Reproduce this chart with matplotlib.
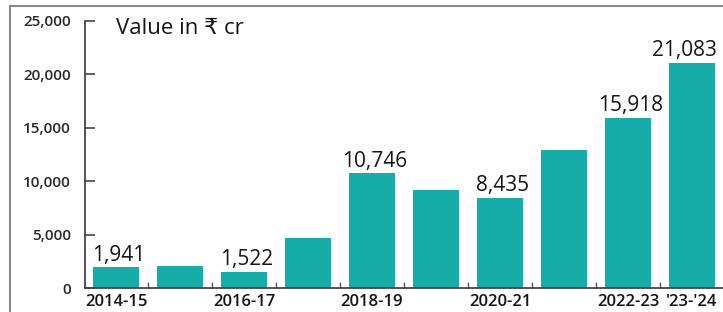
import matplotlib.pyplot as plt
import numpy as np

# Data
years = ['2014-15', '2015-16', '2016-17', '2017-18', '2018-19',
         '2019-20', '2020-21', '2021-22', '2022-23', '2023-24']
values = [1941, 2100, 1522, 4650, 10746, 9150, 8435, 12900, 15918, 21083]
shown_labels = ['1,941', '', '1,522', '', '10,746', '', '8,435', '', '15,918', '21,083']
xtick_labels = ['2014-15', '', '2016-17', '', '2018-19', '', '2020-21', '', '2022-23', "'23-'24"]
yticks = [0, 5000, 10000, 15000, 20000, 25000]

teal = '#16aca8'
dark = '#151515'
fam = ['Open Sans', 'DejaVu Sans']

fig = plt.figure(figsize=(7.23, 3.12), dpi=100)
ax = fig.add_axes([85 / 723, 24 / 312, 638 / 723, 267 / 312])

x = np.arange(len(years))
ax.bar(x, values, width=0.72, color=teal)

# value labels above selected bars (last one nudged left to stay inside)
for xi, v, lab in zip(x, values, shown_labels):
    if lab:
        dx = -0.12 if xi == x[-1] else 0.04
        ax.text(xi + dx, v + 150, lab, ha='center', va='bottom', fontsize=15,
                color=dark, family=fam)

ax.set_xlim(-0.484, 9.484)
ax.set_ylim(0, 25000)

ax.set_yticks(yticks)
ax.set_yticklabels([f'{t:,}' for t in yticks], fontsize=11, fontweight='semibold',
                   color='#2a2a2a', family=fam)
ax.tick_params(axis='y', direction='in', length=7, width=1.2, color='#444444', pad=10)

ax.set_xticks(x)
ax.set_xticklabels(xtick_labels, fontsize=12, fontweight='semibold', color=dark, family=fam)
ax.tick_params(axis='x', length=0, pad=4)
ax.set_xticks(x[:-1] + 0.5, minor=True)
ax.tick_params(axis='x', which='minor', direction='in', length=4, width=1, color='#555555')

for side in ['top', 'right']:
    ax.spines[side].set_visible(False)
ax.spines['left'].set_color('#444444')
ax.spines['left'].set_linewidth(1.3)
ax.spines['bottom'].set_color('#444444')
ax.spines['bottom'].set_linewidth(1.3)

ax.text(0.0, 24300, 'Value in \u20b9 cr', ha='left', va='center', fontsize=16,
        color=dark, family=fam)

# frame lines of the clipped newspaper box
fig.add_artist(plt.Line2D([10 / 723, 1], [306 / 312, 306 / 312], color='#888888', lw=1.5))
fig.add_artist(plt.Line2D([10 / 723, 10 / 723], [0, 306 / 312], color='#888888', lw=1.5))

fig.savefig('out.png', dpi=100)
